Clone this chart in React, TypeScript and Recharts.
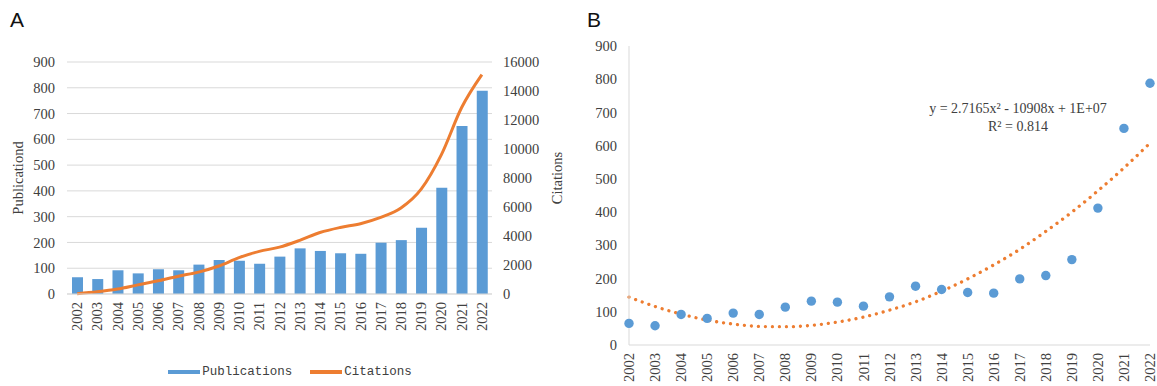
import {
  Bar,
  CartesianGrid,
  ComposedChart,
  Legend,
  Line,
  LineChart,
  XAxis,
  YAxis,
} from 'recharts';

// Publications / citations per year (panel A) and quadratic trend of publications (panel B).

const years = [
  '2002', '2003', '2004', '2005', '2006', '2007', '2008', '2009', '2010', '2011', '2012',
  '2013', '2014', '2015', '2016', '2017', '2018', '2019', '2020', '2021', '2022',
];
const publications = [65, 58, 92, 80, 96, 92, 114, 132, 129, 117, 145, 177, 167, 158, 156, 199, 209, 257, 412, 652, 788];
const citations = [20, 150, 340, 630, 910, 1230, 1510, 1930, 2510, 2940, 3230, 3700, 4240, 4590, 4850, 5280, 5930, 7230, 9610, 12860, 15130];
// dotted polynomial trendline
const trend = [144, 116, 93, 75, 63, 56, 55, 59, 69, 84, 105, 130, 162, 199, 241, 288, 342, 400, 464, 533, 608];

const leftTicks = [0, 100, 200, 300, 400, 500, 600, 700, 800, 900];
const rightTicks = [0, 2000, 4000, 6000, 8000, 10000, 12000, 14000, 16000];

const BLUE = '#5B9BD5';
const ORANGE = '#ED7D31';
const GRID = '#d9d9d9';
const TEXT = '#404040';
const SERIF = '"Liberation Serif", "Times New Roman", serif';

const rows = years.map((year, i) => ({
  year,
  publications: publications[i],
  citations: citations[i],
  trend: trend[i],
}));

const tickStyle = { fontSize: 14.5, fill: TEXT, style: { fontFamily: SERIF } };

function YearTick(props: any) {
  const { x, y, payload } = props;
  return (
    <g transform={`translate(${x},${y})`}>
      <text
        transform="rotate(-90)"
        textAnchor="end"
        dy="0.35em"
        fill={TEXT}
        style={{ fontFamily: SERIF, fontSize: 14.5 }}
      >
        {payload.value}
      </text>
    </g>
  );
}

function LegendA() {
  const item = (color: string, label: string) => (
    <div style={{ display: 'flex', alignItems: 'center', gap: 2 }}>
      <div style={{ width: 32, height: 4, background: color }} />
      <span style={{ fontFamily: '"Liberation Mono", monospace', fontSize: 12.5, color: TEXT }}>{label}</span>
    </div>
  );
  return (
    <div style={{ display: 'flex', justifyContent: 'center', gap: 18 }}>
      {item(BLUE, 'Publications')}
      {item(ORANGE, 'Citations')}
    </div>
  );
}

export default function App() {
  return (
    <div style={{ position: 'fixed', left: 0, top: 0, width: 1157, height: 386, background: '#fff' }}>
      <div style={{ position: 'absolute', left: 0, top: 0 }}>
        <ComposedChart
          width={580}
          height={386}
          data={rows}
          margin={{ top: 62, right: 8, left: 17, bottom: 33 }}
        >
          <CartesianGrid yAxisId="left" vertical={false} stroke={GRID} />
          <XAxis
            dataKey="year"
            scale="band"
            interval={0}
            height={45}
            tickLine={false}
            axisLine={{ stroke: GRID }}
            tick={<YearTick />}
          />
          <YAxis
            yAxisId="left"
            domain={[0, 900]}
            ticks={leftTicks}
            width={50}
            axisLine={false}
            tickLine={false}
            tickMargin={6}
            tick={tickStyle}
            label={{
              value: 'Publicationd',
              angle: -90,
              position: 'insideLeft',
              offset: 1,
              style: { textAnchor: 'middle', fontSize: 14.5, fill: TEXT, fontFamily: SERIF },
            }}
          />
          <YAxis
            yAxisId="right"
            orientation="right"
            domain={[0, 16000]}
            ticks={rightTicks}
            width={80}
            axisLine={false}
            tickLine={false}
            tickMargin={5}
            tick={tickStyle}
            label={{
              value: 'Citations',
              angle: -90,
              position: 'insideRight',
              offset: 15,
              style: { textAnchor: 'middle', fontSize: 14.5, fill: TEXT, fontFamily: SERIF },
            }}
          />
          <Legend
            content={<LegendA />}
            wrapperStyle={{ position: 'absolute', left: 0, top: 365, width: 580 }}
          />
          <Bar yAxisId="left" dataKey="publications" fill={BLUE} barSize={11} isAnimationActive={false} />
          <Line
            yAxisId="right"
            dataKey="citations"
            type="monotone"
            stroke={ORANGE}
            strokeWidth={3}
            dot={false}
            isAnimationActive={false}
          />
        </ComposedChart>
      </div>

      <div style={{ position: 'absolute', left: 580, top: 0 }}>
        <LineChart width={577} height={386} data={rows} margin={{ top: 46, right: 7, left: 4, bottom: 0 }}>
          <XAxis
            dataKey="year"
            scale="point"
            padding={{ left: 0, right: 0 }}
            interval={0}
            height={41}
            tickLine={false}
            axisLine={{ stroke: GRID }}
            tick={<YearTick />}
          />
          <YAxis
            domain={[0, 900]}
            ticks={leftTicks}
            width={45}
            axisLine={{ stroke: GRID }}
            tickLine={false}
            tickMargin={6}
            tick={tickStyle}
          />
          <Line
            dataKey="publications"
            stroke="none"
            dot={{ r: 4.7, fill: BLUE, stroke: 'none' }}
            activeDot={false}
            isAnimationActive={false}
          />
          <Line
            dataKey="trend"
            type="monotone"
            stroke={ORANGE}
            strokeWidth={3.3}
            strokeLinecap="round"
            strokeDasharray="0.01 7"
            dot={false}
            isAnimationActive={false}
          />
        </LineChart>
      </div>

      <div style={{ position: 'absolute', left: 10, top: 8, fontFamily: '"Liberation Sans", Arial, sans-serif', fontSize: 21, color: '#111' }}>
        A
      </div>
      <div style={{ position: 'absolute', left: 587, top: 8, fontFamily: '"Liberation Sans", Arial, sans-serif', fontSize: 21, color: '#111' }}>
        B
      </div>
      <div
        style={{
          position: 'absolute',
          left: 918,
          top: 100,
          width: 200,
          textAlign: 'center',
          fontFamily: SERIF,
          fontSize: 14,
          lineHeight: '18px',
          color: TEXT,
        }}
      >
        <div>y = 2.7165x² - 10908x + 1E+07</div>
        <div>R² = 0.814</div>
      </div>
    </div>
  );
}
